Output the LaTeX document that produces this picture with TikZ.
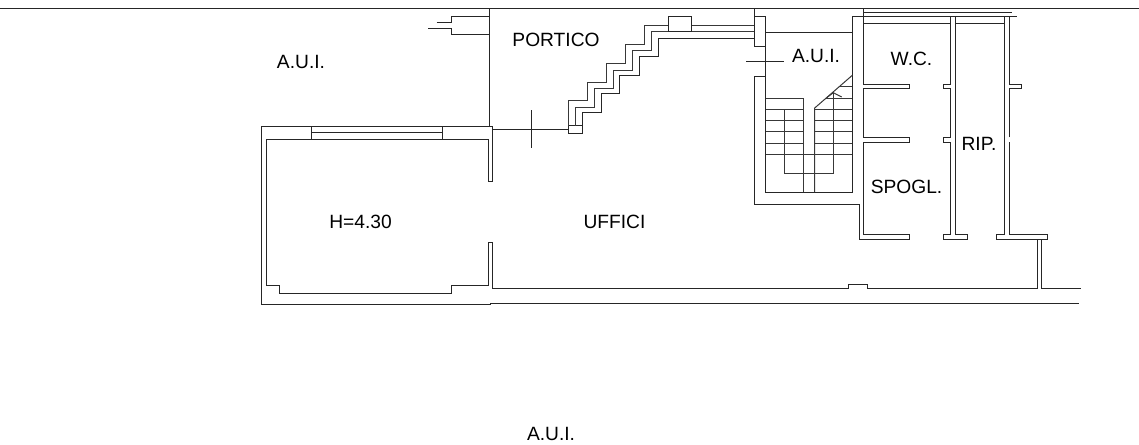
\documentclass[tikz,border=0pt]{standalone}
\usepackage{fontspec}
\setmainfont{Liberation Sans}
\begin{document}
\begin{tikzpicture}[x=0.75pt, y=-0.75pt]
    % Styles
    \tikzstyle{wall} = [draw=black!85, line width=0.75pt, line join=miter]
    \tikzstyle{stair} = [draw=black!78, line width=0.75pt]
    \tikzstyle{room} = [anchor=base, inner sep=0pt, font=\fontsize{14.4}{16}\selectfont, text=black]

    \useasboundingbox (0, 0) rectangle (1139, 444);

    % Room labels
    \node[room] (AuiWest) at (301, 68.3) {A.U.I.};
    \node[room] (Portico) at (556, 46.7) {PORTICO};
    \node[room] (AuiStair) at (816, 62.3) {A.U.I.};
    \node[room] (Wc) at (911.5, 65.7) {W.C.};
    \node[room] (Rip) at (979, 150) {RIP.};
    \node[room] (Spogl) at (906.5, 193.3) {SPOGL.};
    \node[room] (Height) at (360.5, 228.3) {H=4.30};
    \node[room] (Uffici) at (614.5, 228.3) {UFFICI};
    \node[room] (AuiSouth) at (551, 440) {A.U.I.};

    % Street line and portico
    \draw[wall] (0, 8.7) -- (1139, 8.7);
    \draw[wall] (489.7, 8.7) -- (489.7, 126);
    \draw[wall] (436.7, 22) -- (451.7, 22) -- (451.7, 16) -- (489.7, 16);
    \draw[wall] (428.3, 28.7) -- (451.7, 28.7) -- (451.7, 34.3) -- (489.7, 34.3);

    % Room H=4.30, outer and inner faces
    \draw[wall] (492.7, 181.7) -- (492.7, 126) -- (261, 126) -- (261, 304.7) -- (490, 304.7) -- (490, 303.7) -- (1078.7, 303.7);
    \draw[wall] (492.7, 181.7) -- (488, 181.7) -- (488, 139) -- (266, 139) -- (266, 285.3) -- (279.7, 285.3) -- (279.7, 293) -- (451.3, 293) -- (451.3, 285.3) -- (488, 285.3) -- (488, 242) -- (492.7, 242) -- (492.7, 288.3) -- (848.3, 288.3) -- (848.3, 284.3) -- (867.5, 284.3) -- (867.5, 288.3) -- (1037.7, 288.3) -- (1037.7, 239.3);
    \draw[wall] (1041.7, 239.3) -- (1041.7, 288.3) -- (1080.7, 288.3);
    \draw[wall] (311, 126) -- (311, 139);
    \draw[wall] (442.7, 126) -- (442.7, 139);
    \draw[wall] (311, 132.3) -- (442.7, 132.3);

    % External stair
    \draw[wall] (492.7, 129.7) -- (568.3, 129.7);
    \draw[wall] (531, 110) -- (531, 148);
    \draw[wall] (568.3, 125.7) rectangle (582.3, 133.3);
    \draw[stair] (568.3, 125.7) -- (568.3, 100.7) -- (587.7, 100.7) -- (587.7, 82.7) -- (606.3, 82.7) -- (606.3, 63.3) -- (625.7, 63.3) -- (625.7, 44) -- (644.7, 44) -- (644.7, 25.3) -- (754.3, 25.3);
    \draw[stair] (575.3, 125.7) -- (575.3, 107.3) -- (594.3, 107.3) -- (594.3, 88.3) -- (613, 88.3) -- (613, 70.3) -- (632.3, 70.3) -- (632.3, 50.7) -- (651.3, 50.7) -- (651.3, 31.7) -- (754.3, 31.7);
    \draw[wall] (582.3, 125.7) -- (582.3, 112.7) -- (601.7, 112.7) -- (601.7, 93.3) -- (619.7, 93.3) -- (619.7, 75) -- (639, 75) -- (639, 56) -- (658.3, 56) -- (658.3, 38.3) -- (754.3, 38.3);
    \draw[wall, fill=white] (668.7, 16) rectangle (691.7, 31.7);

    % Stair well walls
    \draw[wall] (754.3, 8.7) -- (754.3, 46) -- (765.7, 46);
    \draw[wall] (754.3, 16) -- (765.7, 16) -- (765.7, 192) -- (852.3, 192) -- (852.3, 16);
    \draw[wall] (746.3, 61.3) -- (784.3, 61.3);
    \draw[wall] (765.7, 32) -- (852.3, 32);
    \draw[wall] (765.7, 76.5) -- (754.3, 76.5) -- (754.3, 204) -- (859, 204) -- (859, 239.3) -- (909.3, 239.3) -- (909.3, 234.3) -- (863.7, 234.3) -- (863.7, 142.3) -- (909.3, 142.3) -- (909.3, 137.3) -- (863.7, 137.3) -- (863.7, 88.3) -- (909.3, 88.3) -- (909.3, 84) -- (863.7, 84) -- (863.7, 8.7);

    % Inner stair flights
    \draw[stair] (765.7, 98.3) -- (803.3, 98.3) -- (803.3, 192);
    \draw[stair] (814.7, 192) -- (814.7, 108) -- (852.3, 75.3);
    \draw[stair] (784, 109) -- (784, 173) -- (833.3, 173) -- (833.3, 92.7);
    \foreach \yy in {109, 120.3, 131.7, 143.3} {
        \draw[stair] (765.7, \yy) -- (803.3, \yy);
        \draw[stair] (814.7, \yy) -- (852.3, \yy);
    }
    \draw[stair] (765.7, 154.7) -- (852.3, 154.7);
    \draw[stair] (826, 98.3) -- (852.3, 98.3);
    \draw[stair] (840, 86) -- (852.3, 86);
    \draw[stair] (827, 97.5) -- (833.3, 92.7) -- (841.7, 97);

    % Service rooms
    \draw[wall] (852.3, 16) -- (1016.7, 16);
    \draw[wall] (863.7, 12.3) -- (1012.3, 12.3);
    \draw[wall] (863.7, 23.7) -- (950.7, 23.7);
    \draw[wall] (955.3, 23.7) -- (1004, 23.7);
    \draw[wall] (950.7, 16) -- (950.7, 84) -- (943.3, 84) -- (943.3, 88.3) -- (950.7, 88.3) -- (950.7, 137.3) -- (943.3, 137.3) -- (943.3, 142.3) -- (950.7, 142.3) -- (950.7, 234.3) -- (943.3, 234.3) -- (943.3, 239.3) -- (967, 239.3) -- (967, 234.3) -- (955.3, 234.3) -- (955.3, 16);
    \draw[wall] (1004, 16) -- (1004, 234.3) -- (996.3, 234.3) -- (996.3, 239.3) -- (1047.3, 239.3) -- (1047.3, 234.3) -- (1009, 234.3) -- (1009, 142.3);
    \draw[wall] (1009, 137.3) -- (1009, 88.3) -- (1021.7, 88.3) -- (1021.7, 84) -- (1009, 84) -- (1009, 16);
\end{tikzpicture}
\end{document}
